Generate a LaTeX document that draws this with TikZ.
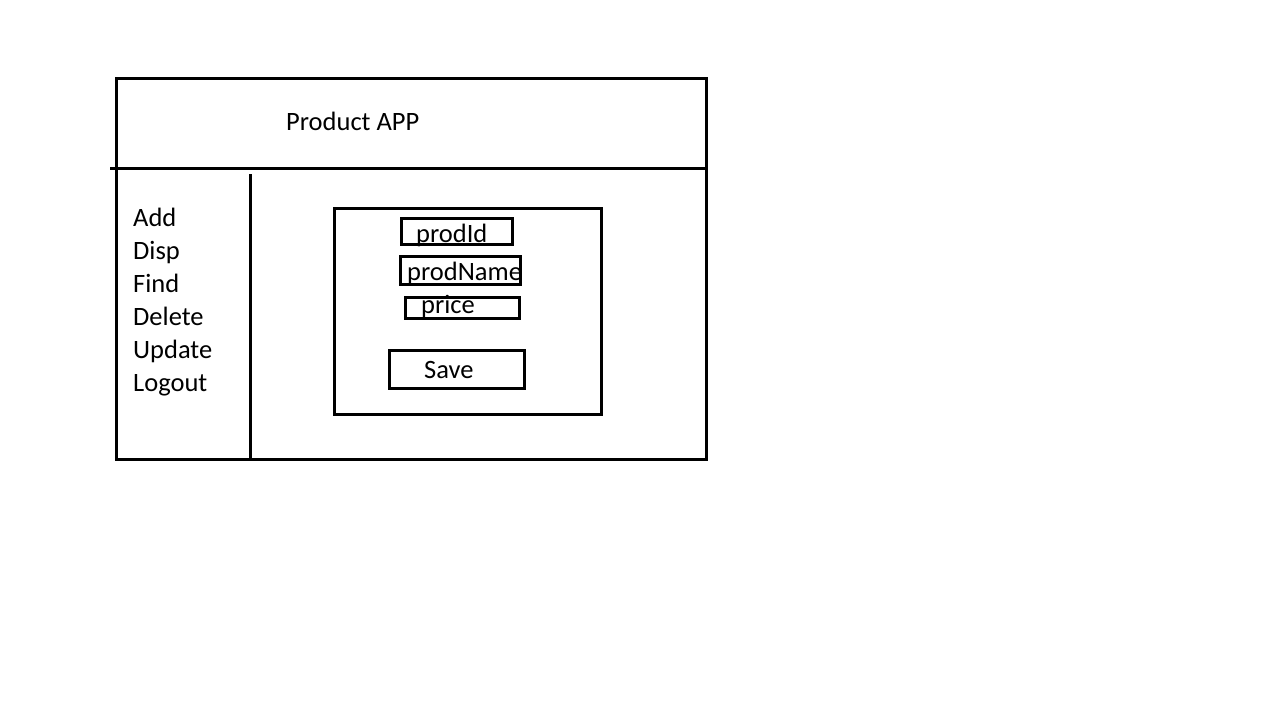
\documentclass[tikz,border=0pt]{standalone}
\usepackage{fontspec}
\setmainfont{Carlito}
\tikzset{
  frame/.style={draw=black, line width=3pt},
  field/.style={draw=black, line width=3pt, inner sep=0pt, outer sep=0pt, anchor=north west},
  lbl/.style={inner sep=0pt, anchor=base west, font=\fontsize{26.5}{31}\selectfont},
}
\begin{document}
\begin{tikzpicture}[x=1pt, y=-1pt]
\useasboundingbox (0,0) rectangle (1274,702);
% outer frame
\node[field, minimum width=590pt, minimum height=381pt] (app) at (116,78) {};
\coordinate (hl) at (110,168);
\coordinate (hr) at (706,168);
\draw[frame] (hl) -- (hr);
\coordinate (vt) at (250,174);
\coordinate (vb) at (250,459);
\draw[frame] (vt) -- (vb);
\node[lbl] (title) at (286,130) {Product APP};
% menu
\node[lbl] (m1) at (133,226) {Add};
\node[lbl] (m2) at (133,259) {Disp};
\node[lbl] (m3) at (133,292) {Find};
\node[lbl] (m4) at (133,325) {Delete};
\node[lbl] (m5) at (133,358) {Update};
\node[lbl] (m6) at (133,391) {Logout};
% form
\node[field, minimum width=267pt, minimum height=206pt] (form) at (334,208) {};
\node[field, minimum width=111pt, minimum height=26pt] (fid) at (401,218) {};
\node[lbl] (tid) at (416,242) {prodId};
\node[field, minimum width=120pt, minimum height=28pt] (fname) at (400,256) {};
\node[lbl] (tname) at (407,280) {prodName};
\node[field, minimum width=114pt, minimum height=21pt] (fprice) at (405,297) {};
\node[lbl] (tprice) at (421,313) {price};
\node[field, minimum width=135pt, minimum height=38pt] (fsave) at (389,350) {};
\node[lbl] (tsave) at (424,378) {Save};
\end{tikzpicture}
\end{document}
